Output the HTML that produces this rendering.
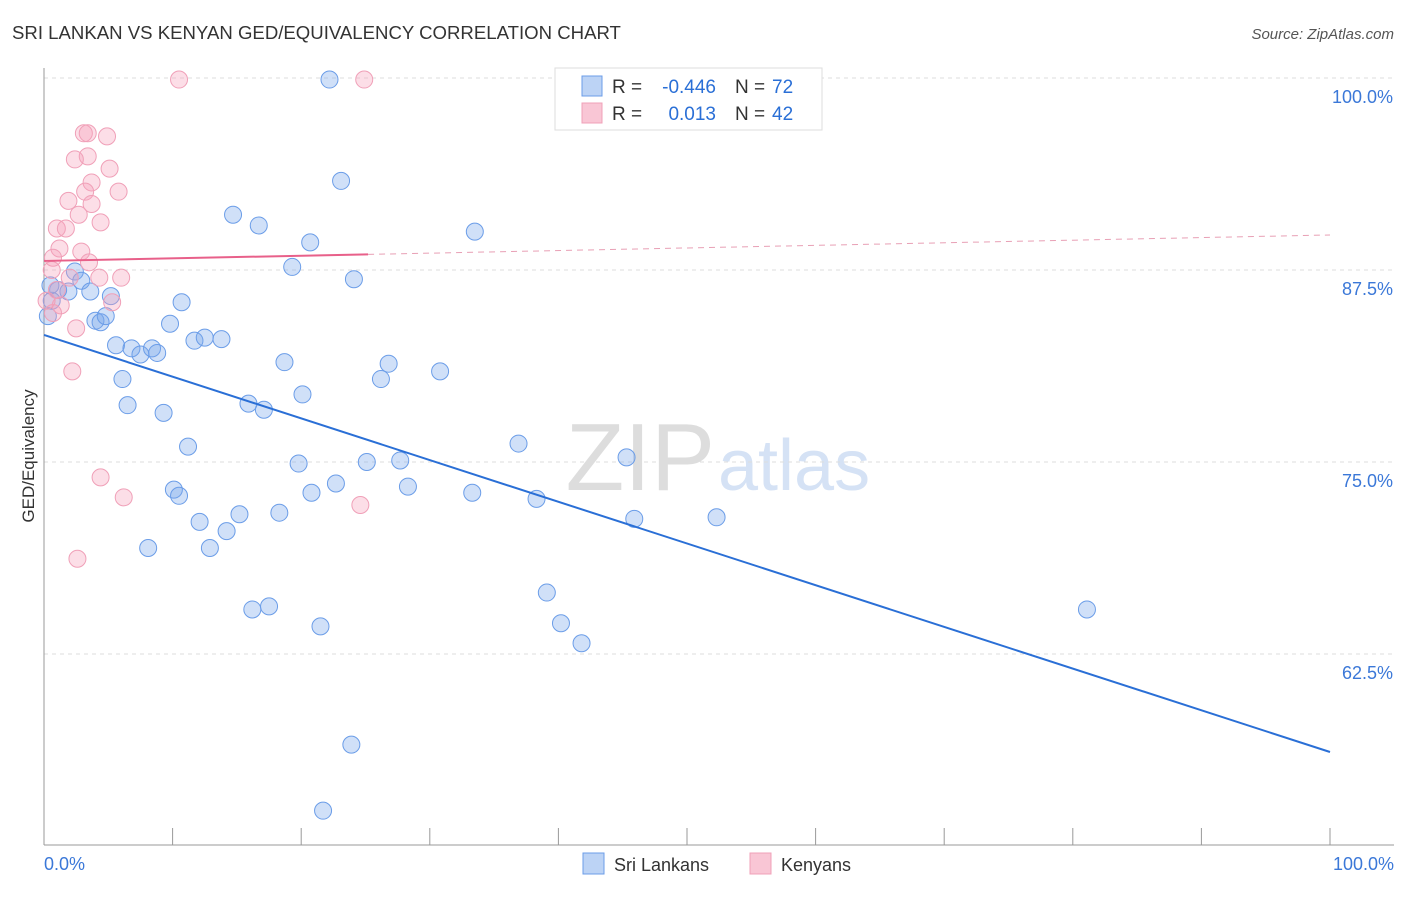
<!DOCTYPE html>
<html><head><meta charset="utf-8"><style>
body{margin:0;background:#fff;font-family:"Liberation Sans",sans-serif}
svg text{font-family:"Liberation Sans",sans-serif}
</style></head><body>
<svg id="chart" width="1406" height="892">
<text x="12" y="39" font-size="18.6" fill="#333">SRI LANKAN VS KENYAN GED/EQUIVALENCY CORRELATION CHART</text>
<text x="1394" y="39" font-size="15" fill="#555" font-style="italic" text-anchor="end">Source: ZipAtlas.com</text>
<text x="715" y="490" font-size="96" fill="#ddd" font-family="Liberation Serif" text-anchor="end">ZIP</text>
<text x="718" y="490" font-size="72" fill="#d5e2f5">atlas</text>
<g id="grid"></g>
<g id="axes"></g>
<g id="marks"></g>
<text x="34" y="456" font-size="17" fill="#333" transform="rotate(-90 34 456)" text-anchor="middle">GED/Equivalency</text>
<g>
<rect x="555" y="68" width="267" height="62" fill="#fff" stroke="#ddd"/>
<rect x="582" y="76" width="20" height="20" fill="#bcd3f5" stroke="#6b9de8"/>
<rect x="582" y="103" width="20" height="20" fill="#f9c6d5" stroke="#f0a0b8"/>
<text x="612" y="93" font-size="19" fill="#333">R =</text>
<text x="716" y="93" font-size="19" fill="#2a6fd6" text-anchor="end">-0.446</text>
<text x="735" y="93" font-size="19" fill="#333">N =</text>
<text x="772" y="93" font-size="19" fill="#2a6fd6">72</text>
<text x="612" y="120" font-size="19" fill="#333">R =</text>
<text x="716" y="120" font-size="19" fill="#2a6fd6" text-anchor="end">0.013</text>
<text x="735" y="120" font-size="19" fill="#333">N =</text>
<text x="772" y="120" font-size="19" fill="#2a6fd6">42</text>
</g>
<g>
<rect x="583" y="853" width="21" height="21" fill="#bcd3f5" stroke="#6b9de8"/>
<text x="614" y="871" font-size="18" fill="#333">Sri Lankans</text>
<rect x="750" y="853" width="21" height="21" fill="#f9c6d5" stroke="#f0a0b8"/>
<text x="781" y="871" font-size="18" fill="#333">Kenyans</text>
</g>
</svg>
<script>
const yTicks=[100,87.5,75,62.5];
const yTickLabels=["100.0%","87.5%","75.0%","62.5%"];
const xEndLabels=["0.0%","100.0%"];
const blueX=[22.2,23.1,14.7,16.7,20.7,33.5,19.3,24.1,1.9,1.1,2.4,2.9,3.6,5.2,10.7,4.0,4.4,4.8,9.8,5.6,6.8,7.5,8.4,8.8,11.7,12.5,13.8,6.1,6.5,9.3,11.2,15.9,17.1,18.7,20.1,26.2,26.8,30.8,36.9,45.3,19.8,25.1,27.7,10.1,10.5,20.8,22.7,28.3,33.3,38.3,12.1,15.2,18.3,14.2,8.1,12.9,45.9,52.3,16.2,17.5,21.5,39.1,40.2,41.8,81.1,23.9,21.7,0.6,0.3,0.5];
const blueY=[99.9,93.3,91.1,90.4,89.3,90.0,87.7,86.9,86.1,86.2,87.4,86.8,86.1,85.8,85.4,84.2,84.1,84.5,84.0,82.6,82.4,82.0,82.4,82.1,82.9,83.1,83.0,80.4,78.7,78.2,76.0,78.8,78.4,81.5,79.4,80.4,81.4,80.9,76.2,75.3,74.9,75.0,75.1,73.2,72.8,73.0,73.6,73.4,73.0,72.6,71.1,71.6,71.7,70.5,69.4,69.4,71.3,71.4,65.4,65.6,64.3,66.5,64.5,63.2,65.4,56.6,52.3,85.5,84.5,86.5];
const pinkX=[10.5,24.9,3.1,3.4,4.9,3.4,2.4,5.1,3.7,5.8,3.2,1.9,3.7,2.7,4.4,1.0,1.7,1.2,2.9,3.5,0.7,6.0,4.3,2.0,1.0,1.3,5.3,0.7,2.5,2.2,4.4,6.2,24.6,2.6,0.6,0.2];
const pinkY=[99.9,99.9,96.4,96.4,96.2,94.9,94.7,94.1,93.2,92.6,92.6,92.0,91.8,91.1,90.6,90.2,90.2,88.9,88.7,88.0,88.3,87.0,87.0,87.0,86.2,85.2,85.4,84.7,83.7,80.9,74.0,72.7,72.2,68.7,87.5,85.5];
const blueLine=[83.27,56.12];
const pinkLine=[88.09,89.78];
const pinkSolidEnd=25.2;

const NS="http://www.w3.org/2000/svg";
const X=v=>44+v*12.86;
const Y=v=>78+(100-v)*15.36;
function mk(tag,attrs,parent){const e=document.createElementNS(NS,tag);for(const k in attrs)e.setAttribute(k,attrs[k]);parent.appendChild(e);return e;}
const grid=document.getElementById('grid'),axes=document.getElementById('axes'),marks=document.getElementById('marks');
yTicks.forEach((t,i)=>{
 const l=mk('line',{x1:44,x2:1394,y1:Y(t),y2:Y(t),stroke:'#ddd','stroke-dasharray':'4,4'},grid);
 
 
 const tx=mk('text',{x:1393,y:Y(t)+25,'font-size':18,fill:'#3b78d8','text-anchor':'end'},axes);
 tx.textContent=yTickLabels[i];
 
 
});
const ax=mk('line',{x1:44,x2:44,y1:68,y2:845,stroke:'#999'},axes);


const bx=mk('line',{x1:44,x2:1394,y1:845,y2:845,stroke:'#999'},axes);


for(let i=0;i<=10;i++){
 const t=mk('line',{x1:X(i*10),x2:X(i*10),y1:828,y2:845,stroke:'#999'},axes);
 
 
}
[[0,'start',44],[100,'end',1394]].forEach((d,i)=>{
 const t=mk('text',{x:d[2],y:870,'font-size':18,fill:'#3b78d8','text-anchor':d[1]},axes);
 t.textContent=xEndLabels[i];
 
 
});
blueX.forEach((v,i)=>{
 const c=mk('circle',{cx:X(v),cy:Y(blueY[i]),r:8.5,fill:'rgba(120,165,235,0.35)',stroke:'#6b9de8','stroke-width':1},marks);
 
 
});
pinkX.forEach((v,i)=>{
 const c=mk('circle',{cx:X(v),cy:Y(pinkY[i]),r:8.5,fill:'rgba(245,160,185,0.35)',stroke:'#f0a0b8','stroke-width':1},marks);
 
 
});
const bl=mk('line',{x1:X(0),y1:Y(blueLine[0]),x2:X(100),y2:Y(blueLine[1]),stroke:'#2a6fd6','stroke-width':2},marks);


const pAt=v=>pinkLine[0]+(pinkLine[1]-pinkLine[0])*v/100;
const pl=mk('line',{x1:X(0),y1:Y(pAt(0)),x2:X(pinkSolidEnd),y2:Y(pAt(pinkSolidEnd)),stroke:'#e8608a','stroke-width':2},marks);


const pd=mk('line',{x1:X(pinkSolidEnd),y1:Y(pAt(pinkSolidEnd)),x2:X(100),y2:Y(pAt(100)),stroke:'#e8a0b5','stroke-width':1,'stroke-dasharray':'6,5'},marks);


</script>
</body></html>
